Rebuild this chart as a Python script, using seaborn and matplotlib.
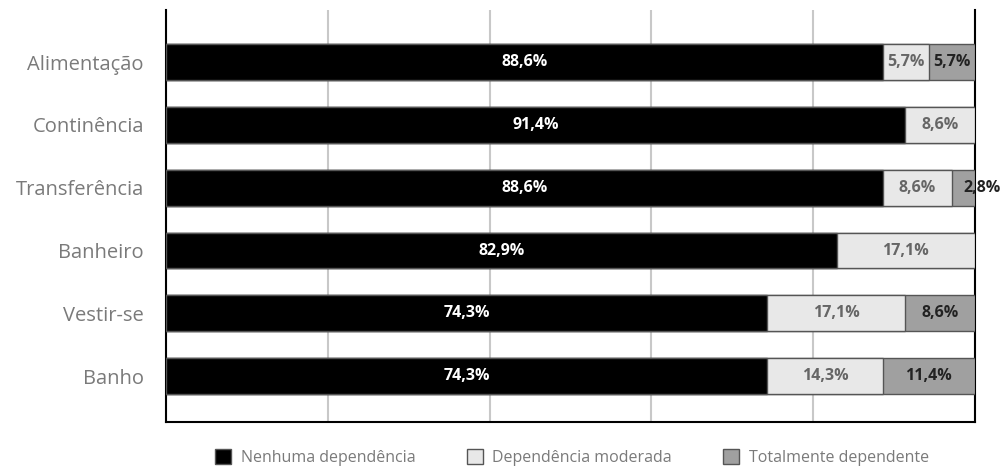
import numpy as np
import pandas as pd
import matplotlib
matplotlib.use("Agg")
import matplotlib.pyplot as plt
from matplotlib.patches import Patch
import seaborn as sns

categories = ["Alimentação", "Continência", "Transferência", "Banheiro", "Vestir-se", "Banho"]
nenhuma = [88.6, 91.4, 88.6, 82.9, 74.3, 74.3]
moderada = [5.7, 8.6, 8.6, 17.1, 17.1, 14.3]
total = [5.7, 0.0, 2.8, 0.0, 8.6, 11.4]
series_names = ["Nenhuma dependência", "Dependência moderada", "Totalmente dependente"]
colors = ["#000000", "#e8e8e8", "#a0a0a0"]
label_colors = ["#ffffff", "#666666", "#222222"]

df = pd.DataFrame({"cat": categories, "n": nenhuma, "m": moderada, "t": total})
df["c1"] = df["n"]
df["c2"] = df["n"] + df["m"]
df["c3"] = df["c2"] + df["t"]

sns.set_theme(style="white")
plt.rcParams["font.family"] = ["Open Sans", "DejaVu Sans"]

fig = plt.figure(figsize=(10, 4.69), dpi=100)
ax = fig.add_axes([0.166, 0.100, 0.809, 0.879])

# stacked by drawing the cumulative totals from largest to smallest
for col, c in zip(["c3", "c2", "c1"], colors[::-1]):
    sns.barplot(data=df, x=col, y="cat", color=c, orient="h", width=0.57,
                edgecolor="#555555", linewidth=1.0, saturation=1, ax=ax, zorder=3)

ax.set_xlim(0, 100)
ax.set_ylim(5.73, -0.83)
ax.set_xticks([0, 20, 40, 60, 80, 100])
ax.set_xticklabels([])
ax.tick_params(axis="x", length=0)
ax.tick_params(axis="y", length=0, labelsize=14.5, labelcolor="#7a7a7a", pad=16)
ax.xaxis.grid(True, color="#c8c8c8", linewidth=1.5, zorder=0)
ax.set_axisbelow(True)
ax.set_xlabel("")
ax.set_ylabel("")
for s in ["left", "bottom", "right"]:
    ax.spines[s].set_color("black")
    ax.spines[s].set_linewidth(1.5)
ax.spines["top"].set_visible(False)

# value labels
for i, row in df.iterrows():
    segs = [(0, row["n"]), (row["c1"], row["m"]), (row["c2"], row["t"])]
    for k, (start, w) in enumerate(segs):
        if w <= 0:
            continue
        xpos = start + w / 2
        if w < 4:
            xpos = start + w / 2 + 2.3
        ax.text(xpos, i, f"{w:.1f}%".replace(".", ","), ha="center", va="center",
                color=label_colors[k], fontsize=11.5, fontweight="bold", zorder=5)

handles = [Patch(facecolor=c, edgecolor="#555555", linewidth=1.0) for c in colors]
leg = fig.legend(handles, series_names, loc="lower center", bbox_to_anchor=(0.572, -0.024),
                 ncol=3, frameon=False, fontsize=11.5, handlelength=1.0, handleheight=1.0,
                 handletextpad=0.6, columnspacing=3.2)
for t in leg.get_texts():
    t.set_color("#7a7a7a")

fig.savefig("out.png", dpi=100)
